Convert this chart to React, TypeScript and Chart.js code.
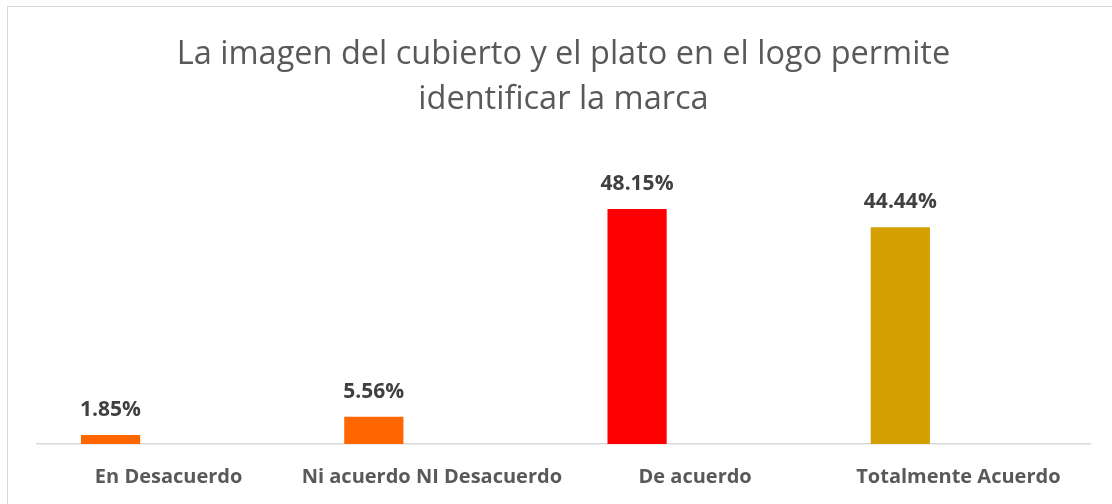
import React, { useEffect, useRef } from "react";
import { Chart, registerables } from "chart.js";

Chart.register(...registerables);

const categories = ["En Desacuerdo", "Ni acuerdo NI Desacuerdo", "De acuerdo", "Totalmente Acuerdo"];
const values = [1.85, 5.56, 48.15, 44.44];
const emptySeries = [null, null, null, null];
const barColors = ["#FF6600", "#FF6600", "#FF0000", "#D49F00"];
const titleLines = ["La imagen del cubierto y el plato en el logo permite", "identificar la marca"];

const FONT = "'Open Sans', 'Liberation Sans', sans-serif";

const labelPlugin = {
  id: "barLabels",
  afterDatasetsDraw(chart: any) {
    const ctx = chart.ctx;
    const meta = chart.getDatasetMeta(0);
    ctx.save();
    ctx.font = `bold 21px ${FONT}`;
    ctx.fillStyle = "#404040";
    ctx.textAlign = "center";
    ctx.textBaseline = "middle";
    meta.data.forEach((bar: any, i: number) => {
      ctx.fillText(values[i].toFixed(2) + "%", bar.x, bar.y - 25);
    });
    ctx.restore();
  },
};

export default function App() {
  const ref = useRef<HTMLCanvasElement | null>(null);
  useEffect(() => {
    if (!ref.current) return;
    const chart = new Chart(ref.current, {
      type: "bar",
      data: {
        labels: categories,
        datasets: [
          {
            data: values,
            backgroundColor: barColors,
            barPercentage: 0.51,
            categoryPercentage: 0.882,
          },
          {
            data: emptySeries as any,
            backgroundColor: "#ffffff",
            barPercentage: 0.51,
            categoryPercentage: 0.882,
          },
        ],
      },
      options: {
        animation: false,
        responsive: false,
        maintainAspectRatio: false,
        layout: { padding: { left: 37, right: 22, top: 32, bottom: -6 } },
        plugins: {
          legend: { display: false },
          tooltip: { enabled: false },
          title: {
            display: true,
            text: titleLines,
            color: "#595959",
            font: { family: FONT, size: 32.5, weight: "normal", lineHeight: 1.38 },
            padding: { top: 0, bottom: 29.5 },
          },
        },
        scales: {
          x: {
            grid: { display: false, drawTicks: false, tickLength: 0 },
            border: { display: true, color: "#d9d9d9", width: 1.5 },
            ticks: {
              color: "#595959",
              font: { family: FONT, size: 20, weight: "bold" },
              padding: 21,
              maxRotation: 0,
              autoSkip: false,
            },
          },
          y: {
            display: false,
            min: 0,
            max: 60,
          },
        },
      },
      plugins: [labelPlugin],
    });
    return () => chart.destroy();
  }, []);

  return (
    <div style={{ position: "fixed", left: 0, top: 0, width: 1112, height: 504, overflow: "hidden", background: "#fff" }}>
      <div
        style={{
          position: "absolute",
          left: 7,
          top: 6,
          width: 1200,
          height: 600,
          border: "1px solid #d9d9d9",
        }}
      />
      <canvas ref={ref} width={1112} height={504} style={{ position: "absolute", left: 0, top: 0 }} />
    </div>
  );
}
